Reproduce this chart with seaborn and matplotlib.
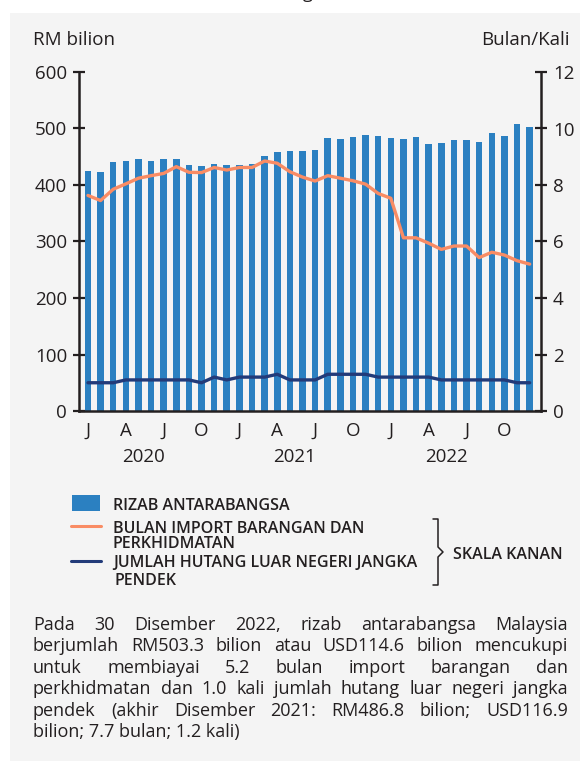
import numpy as np
import pandas as pd
import matplotlib.pyplot as plt
import matplotlib.transforms as mtransforms
from matplotlib.lines import Line2D
from matplotlib.patches import Rectangle
import seaborn as sns

sns.set_style("ticks")
plt.rcParams['font.family'] = ['Open Sans', 'DejaVu Sans']

# monthly data Jan 2020 - Dec 2022
reserves = [425, 423, 440, 443, 446, 443, 446, 446, 435, 434, 437, 435,
            435, 437, 451, 458, 460, 460, 462, 483, 481, 485, 488, 487,
            483, 481, 485, 473, 474, 480, 480, 476, 492, 487, 508, 503]
import_months = [7.63, 7.45, 7.85, 8.04, 8.24, 8.33, 8.41, 8.65, 8.45, 8.44, 8.62, 8.53,
                 8.62, 8.62, 8.85, 8.77, 8.47, 8.28, 8.14, 8.33, 8.24, 8.15, 8.03, 7.7,
                 7.53, 6.13, 6.13, 5.94, 5.72, 5.84, 5.84, 5.43, 5.62, 5.52, 5.32, 5.2]
debt_times = [1.0, 1.0, 1.0, 1.1, 1.1, 1.1, 1.1, 1.1, 1.1, 1.0, 1.2, 1.1,
              1.2, 1.2, 1.2, 1.3, 1.1, 1.1, 1.1, 1.3, 1.3, 1.3, 1.3, 1.2,
              1.2, 1.2, 1.2, 1.2, 1.1, 1.1, 1.1, 1.1, 1.1, 1.1, 1.0, 1.0]
month_labels = ["J", "A", "J", "O"] * 3
years = ["2020", "2021", "2022"]

legend_labels = ["RIZAB ANTARABANGSA",
                 "BULAN IMPORT BARANGAN DAN\nPERKHIDMATAN",
                 "JUMLAH HUTANG LUAR NEGERI JANGKA\nPENDEK"]
scale_note = "SKALA KANAN"
para_lines = ["Pada 30 Disember 2022, rizab antarabangsa Malaysia",
              "berjumlah RM503.3 bilion atau USD114.6 bilion mencukupi",
              "untuk membiayai 5.2 bulan import barangan dan",
              "perkhidmatan dan 1.0 kali jumlah hutang luar negeri jangka",
              "pendek (akhir Disember 2021: RM486.8 bilion; USD116.9",
              "bilion; 7.7 bulan; 1.2 kali)"]

BLUE = "#2b80c1"
ORANGE = "#f98c64"
NAVY = "#223b79"
INK = "#231f20"
PANEL = "#f4f4f4"

W, H = 580, 761
def fx(x):
    return x / W
def fy(y):
    return 1 - y / H

df = pd.DataFrame({"m": np.arange(len(reserves)), "reserves": reserves,
                   "imp": import_months, "debt": debt_times})

fig = plt.figure(figsize=(W / 100, H / 100), dpi=100)
fig.patch.set_facecolor("white")
fig.add_artist(Rectangle((fx(10), 0), 1 - fx(10), fy(13), transform=fig.transFigure,
                         facecolor=PANEL, edgecolor="none", zorder=0))

# title above is cropped in the reference, only the tail of a "g" shows
fig.text(fx(308), 1 + 2.5 / H, "g", ha="center", va="baseline", fontsize=13, color=INK)

ax = fig.add_axes([fx(79), fy(411), (541 - 79) / W, (411 - 72) / H])
ax.set_facecolor("none")
sns.barplot(data=df, x="m", y="reserves", color=BLUE, saturation=1, width=0.52,
            linewidth=0, ax=ax)
ax.set_ylim(0, 600)
ax.set_yticks(range(0, 601, 100))
ax.set_xticks(range(0, 36, 3))
ax.set_xticklabels(month_labels)
ax.set_xlabel("")
ax.set_ylabel("")

ax2 = ax.twinx()
sns.lineplot(data=df, x="m", y="imp", color=ORANGE, lw=2.4, ax=ax2)
sns.lineplot(data=df, x="m", y="debt", color=NAVY, lw=2.4, ax=ax2)
ax2.set_ylim(0, 12)
ax2.set_yticks(range(0, 13, 2))
ax2.set_xlabel("")
ax2.set_ylabel("")
ax.set_xlim(-0.71, 35.9)

for a in (ax, ax2):
    for s in a.spines.values():
        s.set_linewidth(1.8)
        s.set_color(INK)
ax.spines["top"].set_visible(False)
ax.spines["right"].set_visible(False)
ax2.spines["top"].set_visible(False)
ax2.spines["left"].set_visible(False)
ax2.spines["bottom"].set_visible(False)

ax.tick_params(axis="y", direction="inout", length=9, width=1.6, color=INK,
               labelsize=13.5, labelcolor=INK, pad=4)
ax.tick_params(axis="x", length=0, pad=8, labelsize=13.5, labelcolor=INK)
ax2.tick_params(axis="y", direction="inout", length=9, width=1.6, color=INK,
                labelsize=13.5, labelcolor=INK, pad=4)

trans = mtransforms.blended_transform_factory(ax.transData, ax.transAxes)
for i, yr in enumerate(years):
    ax.text(4.4 + 12 * i, -0.136, yr, transform=trans, ha="center", va="center",
            fontsize=13.5, color=INK)

fig.text(fx(33), fy(40), "RM bilion", ha="left", va="center", fontsize=13.5, color=INK)
fig.text(fx(570), fy(40), "Bulan/Kali", ha="right", va="center", fontsize=13.5, color=INK)

# legend
fig.add_artist(Rectangle((fx(72), fy(511)), 28 / W, 16 / H, transform=fig.transFigure,
                         facecolor=BLUE, edgecolor="none"))
fig.add_artist(Line2D([fx(71), fx(101)], [fy(526), fy(526)], transform=fig.transFigure,
                      color=ORANGE, lw=2.2))
fig.add_artist(Line2D([fx(71), fx(101)], [fy(561), fy(561)], transform=fig.transFigure,
                      color=NAVY, lw=2.2))
leg_kw = dict(ha="left", va="baseline", fontsize=11.5, fontweight="semibold", color=INK)
fig.text(fx(113), fy(510), legend_labels[0], **leg_kw)
l1, l2 = legend_labels[1].split("\n")
fig.text(fx(113), fy(533.3), l1, **leg_kw)
fig.text(fx(113), fy(548.3), l2, **leg_kw)
l1, l2 = legend_labels[2].split("\n")
fig.text(fx(113), fy(567.3), l1, **leg_kw)
fig.text(fx(114), fy(585), l2, **leg_kw)
bx = [433, 438, 438, 443, 438, 438, 433]
by = [519, 519, 547, 552, 557, 585, 585]
fig.add_artist(Line2D([fx(v) for v in bx], [fy(v) for v in by], transform=fig.transFigure,
                      color=INK, lw=1.1))
fig.text(fx(453), fy(559), scale_note, **leg_kw)

# justified paragraph
renderer = fig.canvas.get_renderer()
left, right = 33, 568
for i, line in enumerate(para_lines):
    yb = fy(630 + 21.4 * i)
    if i == len(para_lines) - 1:
        fig.text(fx(left), yb, line, ha="left", va="baseline", fontsize=13, color=INK)
        continue
    words = line.split()
    texts = [fig.text(0, yb, w, ha="left", va="baseline", fontsize=13, color=INK) for w in words]
    widths = [t.get_window_extent(renderer).width for t in texts]
    gap = (right - left - sum(widths)) / (len(words) - 1)
    x = left
    for t, w in zip(texts, widths):
        t.set_x(fx(x))
        x += w + gap

fig.savefig("out.png", dpi=100)
